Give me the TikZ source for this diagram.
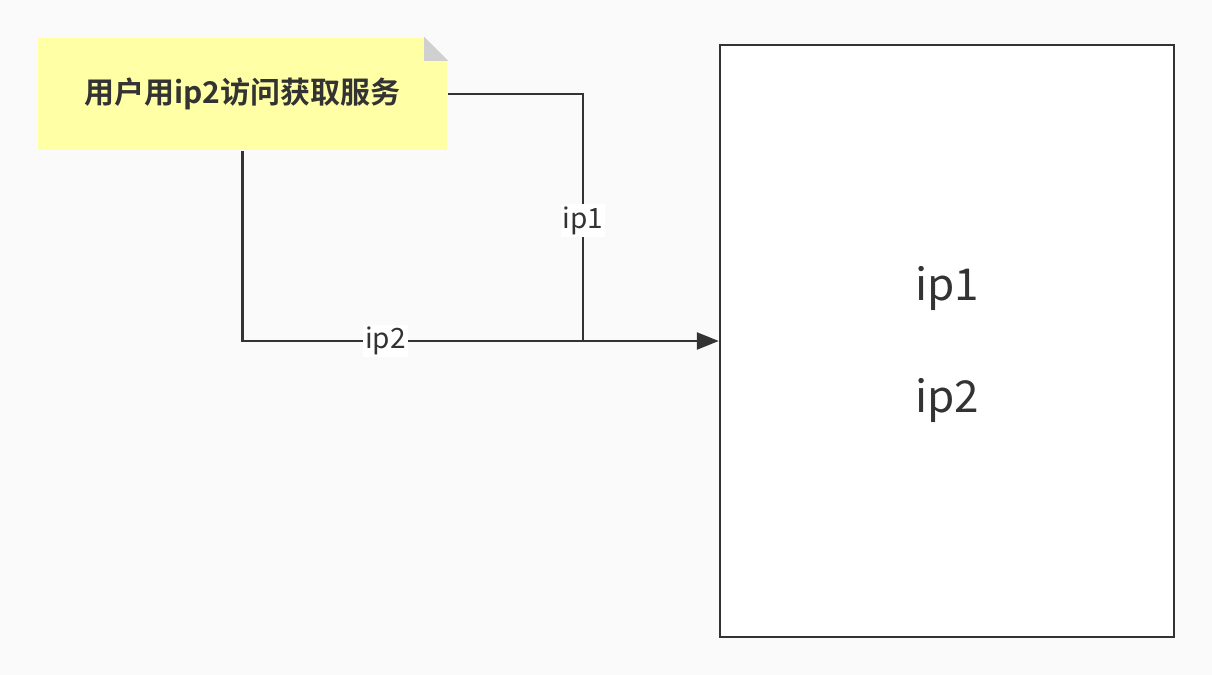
\documentclass[tikz,border=0pt]{standalone}
\usepackage{fontspec}
\setmainfont{Noto Sans CJK SC}[BoldFont={* Bold}]
\usetikzlibrary{arrows.meta}
\definecolor{bg}{HTML}{FAFAFA}
\definecolor{ink}{HTML}{333333}
\definecolor{memo}{HTML}{FFFFA6}
\definecolor{fold}{HTML}{D0D0D0}
\newcommand{\dogear}[2]{\fill[bg] (#1)++(-#2,0) -- (#1) -- ++(0,#2) -- cycle; \fill[fold] (#1)++(-#2,0) -- ++(0,#2) -- ++(#2,0) -- cycle;}

\begin{document}
\begin{tikzpicture}[x = 0.5pt, y = -0.5pt, line width = 1.2pt, draw = ink, text = ink,
  lbl/.style = {fill = white, inner sep = 1pt, font = \fontsize{14}{16}\selectfont}]
\fill[bg] (0,0) rectangle (1212,675);
\useasboundingbox (0,0) rectangle (1212,675);
\node[fill = memo, minimum width = 204.5pt, minimum height = 56pt, inner sep = 0pt,
  font = \bfseries\fontsize{15}{18}\selectfont] (memo) at (242.5,94) {用户用ip2访问获取服务};
\dogear{memo.north east}{24}
\node[draw, fill = white, minimum width = 227pt, minimum height = 296pt] (server) at (947,341) {};
\node[font = \fontsize{22}{26}\selectfont] (srvA) at (947,288) {ip1};
\node[font = \fontsize{22}{26}\selectfont] (srvB) at (947,400) {ip2};
\coordinate (join) at (583,341);
\draw (memo.east) -| node[lbl, pos = 0.756] {ip1} (join);
\draw[-{Triangle[length = 11pt, width = 8.5pt]}] (memo.south) |- node[lbl, pos = 0.65] {ip2} (server.west);
\end{tikzpicture}
\end{document}
